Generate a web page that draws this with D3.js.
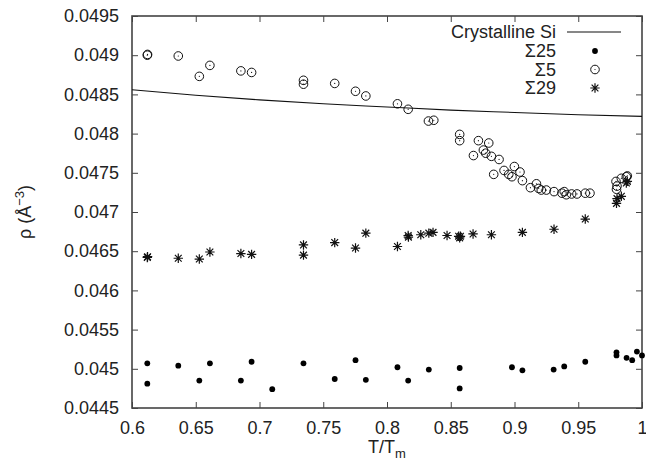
<!DOCTYPE html>
<html>
<head>
<meta charset="utf-8">
<script src="https://cdn.jsdelivr.net/npm/d3@7"></script>
<style>
  html, body { margin: 0; padding: 0; background: #fff; }
  svg { display: block; }
  text { font-family: "Liberation Sans", Arial, Helvetica, sans-serif; fill: #222; }
</style>
</head>
<body>
<svg id="chart" width="646" height="466"></svg>
<script>
// ---- Data ----
const xTicks = [0.6, 0.65, 0.7, 0.75, 0.8, 0.85, 0.9, 0.95, 1.0];
const yTicks = [0.0445, 0.045, 0.0455, 0.046, 0.0465, 0.047, 0.0475, 0.048, 0.0485, 0.049, 0.0495];

const crystX = [0.6, 0.65, 0.7, 0.75, 0.8, 0.85, 0.9, 0.95, 1.0];
const crystY = [0.04856, 0.04849, 0.04843, 0.04838, 0.04834, 0.04830, 0.04827, 0.04824, 0.04822];

const s25X = [0.612, 0.612, 0.6363, 0.6528, 0.6611, 0.6854, 0.6938, 0.7100, 0.7345, 0.759, 0.7753, 0.7834,
              0.8082, 0.8166, 0.8328, 0.857, 0.857, 0.898, 0.9062, 0.9307, 0.939, 0.9555,
              0.980, 0.980, 0.9879, 0.9923, 0.996, 1.0];
const s25Y = [0.04507, 0.04481, 0.04504, 0.04485, 0.04507, 0.04485, 0.04509, 0.04474, 0.04507, 0.04487, 0.04511, 0.04486,
              0.04502, 0.04485, 0.04499, 0.04501, 0.04475, 0.04502, 0.04498, 0.04499, 0.04503, 0.04509,
              0.04521, 0.04517, 0.04514, 0.04511, 0.04522, 0.04517];

const s5X = [0.612, 0.6122, 0.6363, 0.6528, 0.6611, 0.6854, 0.6938, 0.7345, 0.7345, 0.759, 0.7753, 0.7834,
             0.8082, 0.8166, 0.8325, 0.8367, 0.857, 0.857, 0.8678, 0.8717, 0.8798, 0.8756, 0.8774, 0.8819,
             0.8879, 0.8837, 0.8918, 0.8955, 0.898, 0.8999, 0.9043, 0.9062, 0.9125, 0.9172, 0.919, 0.921,
             0.925, 0.931, 0.9372, 0.939, 0.9406, 0.9448, 0.949, 0.9555, 0.9592,
             0.9796, 0.9804, 0.980, 0.9838, 0.9877, 0.9885];
const s5Y = [0.04900, 0.04901, 0.04899, 0.04873, 0.04887, 0.04880, 0.04878, 0.04868, 0.04863, 0.04864, 0.04854, 0.04848,
             0.04838, 0.04831, 0.04816, 0.04817, 0.04799, 0.04791, 0.04772, 0.04791, 0.04788, 0.04779, 0.04775, 0.04771,
             0.04767, 0.04748, 0.04753, 0.04748, 0.04745, 0.04758, 0.04751, 0.04740, 0.04731, 0.04736, 0.04730, 0.04728,
             0.04728, 0.04726, 0.04724, 0.04726, 0.04722, 0.04723, 0.04723, 0.04724, 0.04724,
             0.04739, 0.04733, 0.04729, 0.04743, 0.04745, 0.04746];

const s29X = [0.612, 0.6122, 0.6363, 0.6528, 0.6611, 0.6854, 0.6938, 0.7345, 0.7345, 0.759, 0.7753, 0.7834,
              0.8082, 0.8166, 0.8168, 0.8265, 0.8328, 0.8361, 0.8471, 0.8562, 0.8576, 0.8570, 0.8675, 0.8819,
              0.9062, 0.931, 0.9555, 0.980, 0.9804, 0.9838, 0.9877, 0.9885];
const s29Y = [0.04642, 0.04643, 0.04641, 0.04640, 0.04649, 0.04647, 0.04646, 0.04658, 0.04645, 0.04661, 0.04654, 0.04673,
              0.04656, 0.04670, 0.04668, 0.04671, 0.04673, 0.04674, 0.04670, 0.04669, 0.04669, 0.04667, 0.04672, 0.04671,
              0.04674, 0.04678, 0.04691, 0.04711, 0.04717, 0.04720, 0.04737, 0.04739];

const legendLabels = ["Crystalline Si", "\u03A325", "\u03A35", "\u03A329"];

// ---- Layout ----
const L = 132, R = 642, T = 16, B = 408;
const svg = d3.select("#chart");
const x = d3.scaleLinear().domain([0.6, 1.0]).range([L, R]);
const y = d3.scaleLinear().domain([0.0445, 0.0495]).range([B, T]);
const axisColor = "#444";
const fs = 18;

const tickLen = 6;
const fmtX = v => String(+v.toFixed(2));
const fmtY = v => String(+v.toFixed(4));

const gx = svg.append("g").attr("transform", `translate(0,${B})`)
  .call(d3.axisBottom(x).tickValues(xTicks).tickSize(-tickLen).tickPadding(13).tickFormat(fmtX));
const gxt = svg.append("g").attr("transform", `translate(0,${T})`)
  .call(d3.axisTop(x).tickValues(xTicks).tickSize(-tickLen).tickFormat(""));
const gy = svg.append("g").attr("transform", `translate(${L},0)`)
  .call(d3.axisLeft(y).tickValues(yTicks).tickSize(-tickLen).tickPadding(13).tickFormat(fmtY));
const gyr = svg.append("g").attr("transform", `translate(${R},0)`)
  .call(d3.axisRight(y).tickValues(yTicks).tickSize(-tickLen).tickFormat(""));

[gx, gxt, gy, gyr].forEach(g => {
  g.select(".domain").remove();
  g.selectAll(".tick line").attr("stroke", axisColor).attr("stroke-width", 1);
  g.selectAll(".tick text").attr("font-size", fs).attr("fill", "#222")
    .attr("font-family", "'Liberation Sans', Arial, sans-serif");
});
svg.append("rect").attr("x", L).attr("y", T).attr("width", R - L).attr("height", B - T)
  .attr("fill", "none").attr("stroke", axisColor).attr("stroke-width", 1.6);

// axis titles
const xt = svg.append("text").attr("x", 387).attr("y", 453).attr("text-anchor", "middle").attr("font-size", fs);
xt.append("tspan").text("T/T");
xt.append("tspan").attr("font-size", 13).attr("dy", 5).text("m");

const yt = svg.append("text").attr("transform", "translate(31,212) rotate(-90)")
  .attr("text-anchor", "middle").attr("font-size", fs);
yt.append("tspan").text("\u03C1 (\u00C5");
yt.append("tspan").attr("font-size", 13).attr("dy", -7).text("\u22123");
yt.append("tspan").attr("dy", 7).text(")");

// ---- Series ----
const plot = svg.append("g");

const line = d3.line().x(d => x(d[0])).y(d => y(d[1])).curve(d3.curveMonotoneX);
plot.append("path").datum(d3.zip(crystX, crystY)).attr("d", line)
  .attr("fill", "none").attr("stroke", "#111").attr("stroke-width", 1.1);

function starPath(s) {
  const d = s * 0.72;
  return `M${-s},0L${s},0M0,${-s}L0,${s}M${-d},${-d}L${d},${d}M${-d},${d}L${d},${-d}`;
}

plot.selectAll(".s25").data(d3.zip(s25X, s25Y)).join("circle")
  .attr("cx", d => x(d[0])).attr("cy", d => y(d[1])).attr("r", 2.9).attr("fill", "#000");

const c5 = plot.selectAll(".s5").data(d3.zip(s5X, s5Y)).join("g")
  .attr("transform", d => `translate(${x(d[0])},${y(d[1])})`);
c5.append("circle").attr("r", 4.3).attr("fill", "none").attr("stroke", "#111").attr("stroke-width", 1);
c5.append("circle").attr("r", 0.6).attr("fill", "#111");

plot.selectAll(".s29").data(d3.zip(s29X, s29Y)).join("path")
  .attr("transform", d => `translate(${x(d[0])},${y(d[1])})`)
  .attr("d", starPath(4.7)).attr("stroke", "#111").attr("stroke-width", 1.2).attr("fill", "none");

// ---- Legend ----
const lg = svg.append("g");
const ly = [32, 51, 69.5, 88];
const textX = 556, markX = 595;
legendLabels.forEach((t, i) => {
  lg.append("text").attr("x", textX).attr("y", ly[i]).attr("dy", "0.35em")
    .attr("text-anchor", "end").attr("font-size", fs).text(t);
});
lg.append("line").attr("x1", 567).attr("x2", 621).attr("y1", ly[0]).attr("y2", ly[0])
  .attr("stroke", "#111").attr("stroke-width", 1.1);
lg.append("circle").attr("cx", markX).attr("cy", ly[1]).attr("r", 2.9).attr("fill", "#000");
lg.append("circle").attr("cx", markX).attr("cy", ly[2]).attr("r", 4.3).attr("fill", "none").attr("stroke", "#111");
lg.append("circle").attr("cx", markX).attr("cy", ly[2]).attr("r", 0.6).attr("fill", "#111");
lg.append("path").attr("transform", `translate(${markX},${ly[3]})`).attr("d", starPath(4.7))
  .attr("stroke", "#111").attr("stroke-width", 1.2).attr("fill", "none");
</script>
</body>
</html>
